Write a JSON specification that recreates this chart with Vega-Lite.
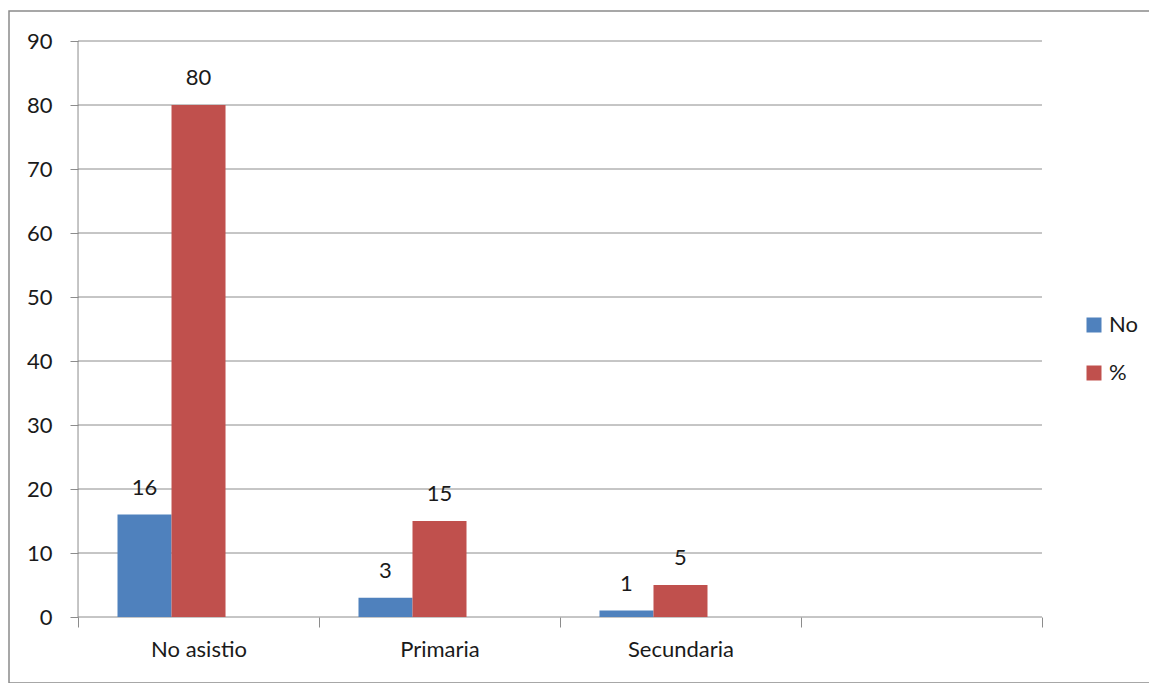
{
  "$schema": "https://vega.github.io/schema/vega-lite/v6.json",
  "autosize": {"type": "none"},
  "padding": {"left": 9, "top": 11, "right": 0, "bottom": 0},
  "width": 1150,
  "height": 672,
  "background": "#ffffff",
  "config": {
    "font": "Lato",
    "view": {"stroke": "#8a8a8a", "strokeWidth": 1.5},
    "axis": {"labelFont": "Lato", "labelFontSize": 22, "labelColor": "#1a1a1a", "tickColor": "#8c8c8c", "tickWidth": 1}
  },
  "datasets": {
    "valores": [
      {"categoria": "No asistio", "serie": "No", "valor": 16},
      {"categoria": "No asistio", "serie": "%", "valor": 80},
      {"categoria": "Primaria", "serie": "No", "valor": 3},
      {"categoria": "Primaria", "serie": "%", "valor": 15},
      {"categoria": "Secundaria", "serie": "No", "valor": 1},
      {"categoria": "Secundaria", "serie": "%", "valor": 5}
    ],
    "rejilla": [
      {"nivel": 0}, {"nivel": 10}, {"nivel": 20}, {"nivel": 30}, {"nivel": 40},
      {"nivel": 50}, {"nivel": 60}, {"nivel": 70}, {"nivel": 80}, {"nivel": 90}
    ]
  },
  "layer": [
    {
      "data": {"name": "rejilla"},
      "mark": {"type": "rule", "color": "#8c8c8c", "strokeWidth": 1},
      "encoding": {
        "y": {"field": "nivel", "type": "quantitative", "scale": {"domain": [-10.3125, 94.6875], "zero": false, "nice": false},
              "axis": {"values": [0, 10, 20, 30, 40, 50, 60, 70, 80, 90], "offset": -69, "domain": false, "grid": false, "tickSize": 8, "labelPadding": 18, "title": null}},
        "x": {"datum": "No asistio", "type": "nominal", "bandPosition": 0,
              "scale": {"domain": ["No asistio", "Primaria", "Secundaria", " "], "paddingInner": 0, "paddingOuter": 0.386, "align": 0.371},
              "axis": {"offset": -66, "domain": false, "grid": false, "tickBand": "extent", "tickSize": 10, "labelPadding": 12, "labelAngle": 0, "title": null}},
        "x2": {"datum": " ", "bandPosition": 1}
      }
    },
    {
      "data": {"values": [{}]},
      "mark": {"type": "rule", "color": "#8c8c8c", "strokeWidth": 1},
      "encoding": {
        "x": {"datum": "No asistio", "type": "nominal", "bandPosition": 0},
        "y": {"datum": 0, "type": "quantitative"},
        "y2": {"datum": 90}
      }
    },
    {
      "data": {"name": "valores"},
      "mark": {"type": "bar"},
      "encoding": {
        "x": {"field": "categoria", "type": "nominal"},
        "xOffset": {"field": "serie", "type": "nominal", "scale": {"domain": ["No", "%", "-"], "paddingInner": 0, "paddingOuter": 0.731}},
        "y": {"field": "valor", "type": "quantitative"},
        "y2": {"datum": 0},
        "color": {"field": "serie", "type": "nominal",
                  "scale": {"domain": ["No", "%"], "range": ["#4f81bd", "#c0504d"]},
                  "legend": {"orient": "none", "legendX": 1074, "legendY": 303, "title": null, "symbolType": "square", "symbolSize": 225, "symbolStrokeWidth": 0, "labelFont": "Lato", "labelFontSize": 22, "labelColor": "#1a1a1a", "labelOffset": 4, "rowPadding": 26}}
      }
    },
    {
      "data": {"name": "valores"},
      "mark": {"type": "text", "font": "Lato", "fontSize": 22, "color": "#1a1a1a", "baseline": "alphabetic", "dy": -20},
      "encoding": {
        "x": {"field": "categoria", "type": "nominal", "bandPosition": 0.5},
        "xOffset": {"field": "serie", "type": "nominal"},
        "y": {"field": "valor", "type": "quantitative"},
        "text": {"field": "valor", "type": "quantitative"}
      }
    }
  ]
}
